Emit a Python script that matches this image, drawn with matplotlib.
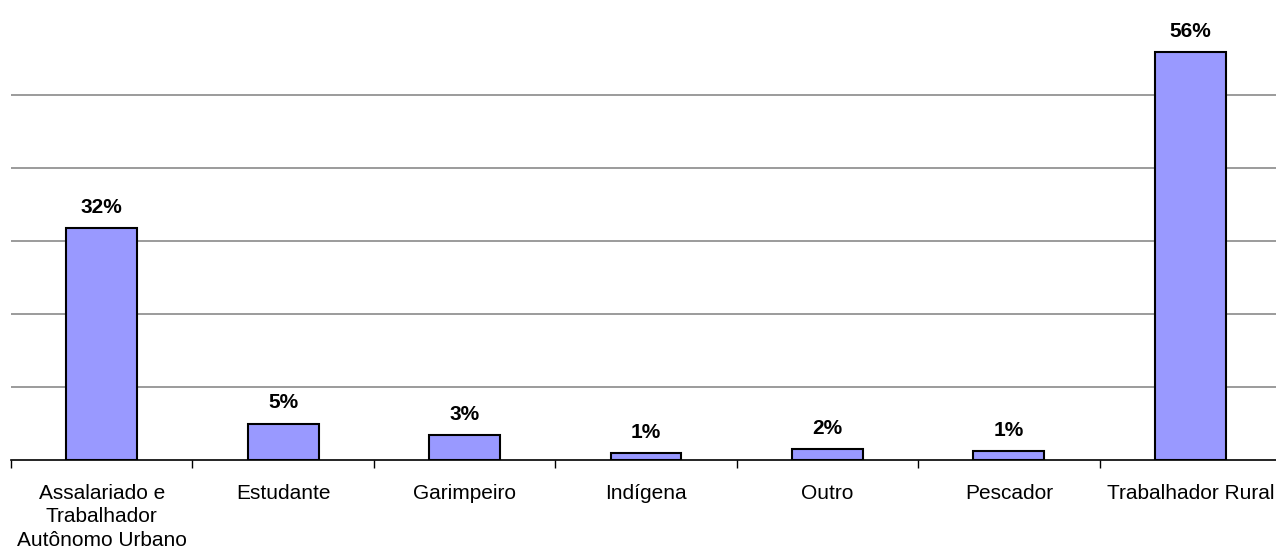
import matplotlib
matplotlib.use('Agg')
from matplotlib import pyplot as plt

categories = ['Assalariado e\nTrabalhador\nAutônomo Urbano', 'Estudante', 'Garimpeiro',
              'Indígena', 'Outro', 'Pescador', 'Trabalhador Rural']
values = [31.8, 5.0, 3.45, 1.0, 1.55, 1.2, 55.9]
labels = ['32%', '5%', '3%', '1%', '2%', '1%', '56%']

plt.rcParams['font.family'] = ['Liberation Sans', 'DejaVu Sans']

fig = plt.figure(figsize=(12.76, 5.52), dpi=100)
ax = fig.add_axes([11 / 1276, 92 / 552, 1270 / 1276, 438 / 552])

x = range(len(categories))
bars = ax.bar(x, values, width=0.39, color='#9999FF', edgecolor='black', linewidth=1.5, zorder=3)

for b, lab in zip(bars, labels):
    ax.annotate(lab, (b.get_x() + b.get_width() / 2, b.get_height()),
                xytext=(0, 8), textcoords='offset points',
                ha='center', va='bottom', fontsize=15, fontweight='bold')

ax.set_xlim(-0.5, 6.5)
ax.set_ylim(0, 60)
ax.set_yticks(range(10, 60, 10))
ax.yaxis.grid(True, color='#808080', linewidth=1.1, zorder=0)
ax.tick_params(axis='y', left=False, labelleft=False)

ax.set_xticks(list(x))
ax.set_xticklabels(categories, fontsize=15, linespacing=1.3)
ax.set_xticks([i - 0.5 for i in range(len(categories) + 1)], minor=True)
ax.tick_params(axis='x', which='major', length=0, pad=17)
ax.tick_params(axis='x', which='minor', length=6, width=1, color='black', direction='out')

for s in ['top', 'right', 'left']:
    ax.spines[s].set_visible(False)
ax.spines['bottom'].set_color('black')
ax.spines['bottom'].set_linewidth(1.2)
ax.spines['bottom'].set_zorder(4)

plt.savefig('out.png', dpi=100)
